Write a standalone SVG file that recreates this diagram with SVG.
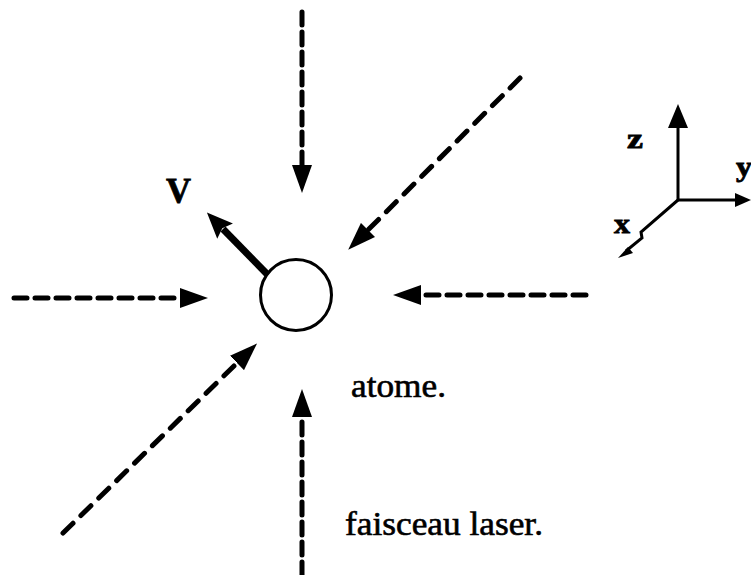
<svg xmlns="http://www.w3.org/2000/svg" width="751" height="575" viewBox="0 0 751 575">
<style>
.beam{fill:none;stroke:#000;stroke-width:5;stroke-linecap:round}
.vbeam{stroke-dasharray:13 7}
.hbeam{stroke-dasharray:13 8}
.dbeam{stroke-dasharray:14 11}
.axis{fill:none;stroke:#000;stroke-width:3}
.lbl{font-family:"Liberation Serif","Times New Roman",serif;fill:#000;stroke:#000;stroke-width:0.6}
.b{font-weight:bold;stroke-width:0.8}
</style>
<defs>
<marker id="head" viewBox="0 0 28 20" refX="0" refY="10" markerWidth="28" markerHeight="20" markerUnits="userSpaceOnUse" orient="auto">
<path d="M0,0 L28,10 L0,20 Z" fill="#000"/>
</marker>
<marker id="vhead" viewBox="0 0 26 22" refX="3" refY="11" markerWidth="26" markerHeight="22" markerUnits="userSpaceOnUse" orient="auto">
<path d="M0,0 L26,11 L0,22 L4,11 Z" fill="#000"/>
</marker>
<marker id="ahead" viewBox="0 0 24 20" refX="0" refY="10" markerWidth="24" markerHeight="20" markerUnits="userSpaceOnUse" orient="auto">
<path d="M0,0 L24,10 L0,20 Z" fill="#000"/>
</marker>
<marker id="yhead" viewBox="0 0 16 14" refX="0" refY="7" markerWidth="16" markerHeight="14" markerUnits="userSpaceOnUse" orient="auto">
<path d="M0,0 L16,7 L0,14 Z" fill="#000"/>
</marker>
</defs>
<rect width="751" height="575" fill="#fff"/>
<g id="connectors">
<path class="beam vbeam" d="M302,12 L302,165" marker-end="url(#head)"/>
<path class="beam vbeam" d="M302,575 L302,417" marker-end="url(#head)"/>
<path class="beam hbeam" d="M14,298 L180,298" marker-end="url(#head)"/>
<path class="beam hbeam" d="M586,295 L421,295" marker-end="url(#head)"/>
<path class="beam dbeam" d="M63,533 L237,363" marker-end="url(#head)"/>
<path class="beam dbeam" d="M520,78 L368,230" marker-end="url(#head)"/>
<path fill="none" stroke="#000" stroke-width="7" d="M267,274 L223,229" marker-end="url(#vhead)"/>
</g>
<g id="atom">
<circle cx="296" cy="295" r="35.5" fill="#fff" stroke="#000" stroke-width="3"/>
</g>
<g id="label-v"><text class="lbl b" x="166" y="203" font-size="36" textLength="25" lengthAdjust="spacingAndGlyphs">V</text></g>
<g id="label-atome"><text class="lbl" x="351" y="397" font-size="33" textLength="95" lengthAdjust="spacingAndGlyphs">atome.</text></g>
<g id="label-laser"><text class="lbl" x="345" y="535" font-size="33" textLength="198" lengthAdjust="spacingAndGlyphs">faisceau laser.</text></g>
<g id="axes">
<path class="axis" d="M678,200 L678,128" marker-end="url(#ahead)"/>
<path class="axis" d="M678,200 L735,200" marker-end="url(#yhead)"/>
<path class="axis" d="M678,200 L641,232 L642,238 L626,251"/>
<path d="M628,247 L633,253 L618,258 Z" fill="#000"/>
<text class="lbl b" x="627" y="148" font-size="28" textLength="16" lengthAdjust="spacingAndGlyphs">z</text>
<text class="lbl b" x="736" y="176" font-size="28" textLength="16" lengthAdjust="spacingAndGlyphs">y</text>
<text class="lbl b" x="614" y="233" font-size="28" textLength="16" lengthAdjust="spacingAndGlyphs">x</text>
</g>
</svg>
